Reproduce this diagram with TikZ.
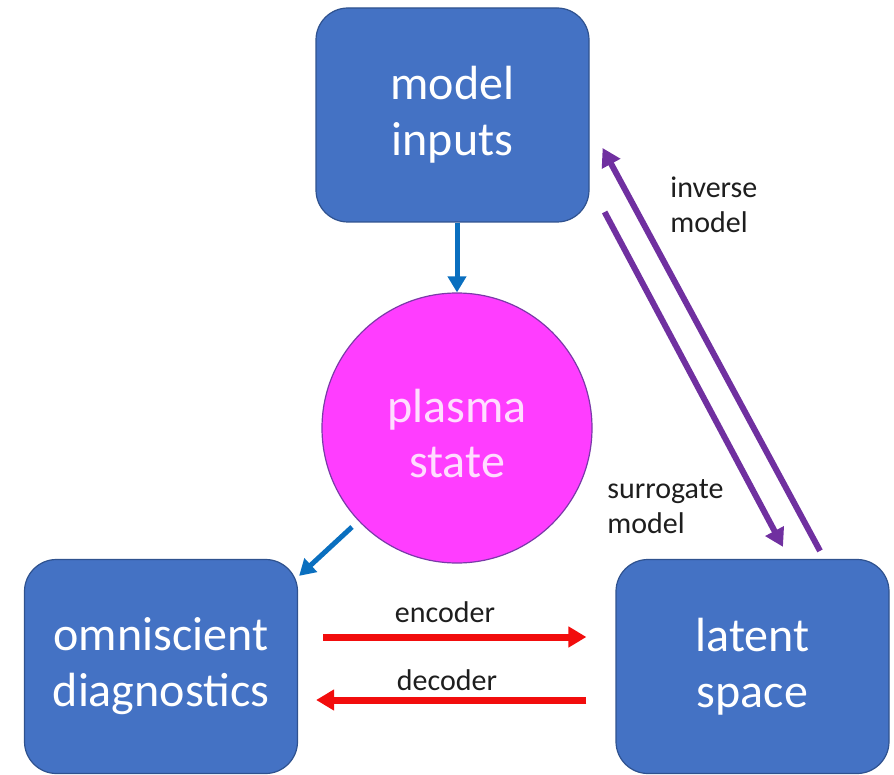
\documentclass[tikz,border=0pt]{standalone}
\usepackage{fontspec}
\setmainfont{Carlito}
\usetikzlibrary{arrows.meta,calc}

\definecolor{boxblue}{HTML}{4472C4}
\definecolor{boxedge}{HTML}{2F528F}
\definecolor{plasmapink}{HTML}{FF3DFF}
\definecolor{plasmaedge}{HTML}{7A3AA8}
\definecolor{plasmatext}{HTML}{FFDDFF}
\definecolor{flowblue}{HTML}{0A6FBF}
\definecolor{mlpurple}{HTML}{7030A0}
\definecolor{codecred}{HTML}{F20D0D}
\definecolor{labelgray}{HTML}{1E1E1E}

\begin{document}
\begin{tikzpicture}[x=0.5pt,y=-0.5pt,
  block/.style={draw=boxedge,line width=0.6pt,fill=boxblue,rounded corners=16pt,
    minimum width=136.5pt,minimum height=107pt,inner sep=0pt,align=center,
    text=white,font=\fontsize{24}{28}\selectfont},
  plasma/.style={circle,draw=plasmaedge,line width=0.6pt,fill=plasmapink,
    minimum size=135pt,inner sep=0pt,align=center,text=plasmatext,
    font=\fontsize{24}{27.5}\selectfont},
  lbl/.style={inner sep=0pt,align=left,text=labelgray,
    font=\fontsize{15}{17.5}\selectfont},
  flowarrow/.style={draw=flowblue,line width=2.5pt,
    -{Triangle[length=8pt,width=9pt]}},
  mlarrow/.style={draw=mlpurple,line width=3pt,
    -{Triangle[length=9pt,width=10pt]}},
  codecarrow/.style={draw=codecred,line width=3.5pt,
    -{Triangle[length=9pt,width=10pt]}}
]
\useasboundingbox (0,0) rectangle (894,775);

% boxes and the plasma state
\node[block] (mi) at (452.5,115) {model\\inputs};
\node[plasma] (ps) at (457,428) {};
\node[inner sep=0pt,align=center,text=plasmatext,font=\fontsize{24}{27.5}\selectfont]
  (pstext) at ($(ps.center)+(0,6)$) {plasma\\state};
\node[block] (diag) at (161,666.5) {omniscient\\diagnostics};
\node[block] (lat) at (752.5,666.5) {latent\\space};

% forward flow
\draw[flowarrow] (mi.south -| ps.north) -- (ps.north);
\coordinate (dstart) at ($(ps.center)+(-105,99)$);
\coordinate (dtip) at ($(diag.north east)+(1,17)$);
\draw[flowarrow] (dstart) -- (dtip);

% inverse and surrogate models
\coordinate (invtail) at ($(lat.north)+(67.5,-8)$);
\coordinate (invtip) at ($(mi.east)+(13,33)$);
\coordinate (surtail) at ($(mi.east)+(15,97)$);
\coordinate (surtip) at ($(lat.north)+(30.5,-12)$);
\draw[mlarrow] (invtail) -- (invtip);
\draw[mlarrow] (surtail) -- (surtip);
% base anchor sits on the last line of a two-line label
\node[lbl,anchor=base west] (invlbl) at (670,233) {inverse\\model};
\node[lbl,anchor=base west] (surlbl) at (607,533) {surrogate\\model};

% encoder and decoder
\draw[codecarrow] ($(diag.east)+(25,-29.5)$) -- ($(lat.west)+(-29,-29.5)$);
\draw[codecarrow] ($(lat.west)+(-29,33.5)$) -- ($(diag.east)+(18,33.5)$);
\node[lbl,anchor=base] (enclbl) at (445,622) {encoder};
\node[lbl,anchor=base] (declbl) at (447,690) {decoder};
\end{tikzpicture}
\end{document}
